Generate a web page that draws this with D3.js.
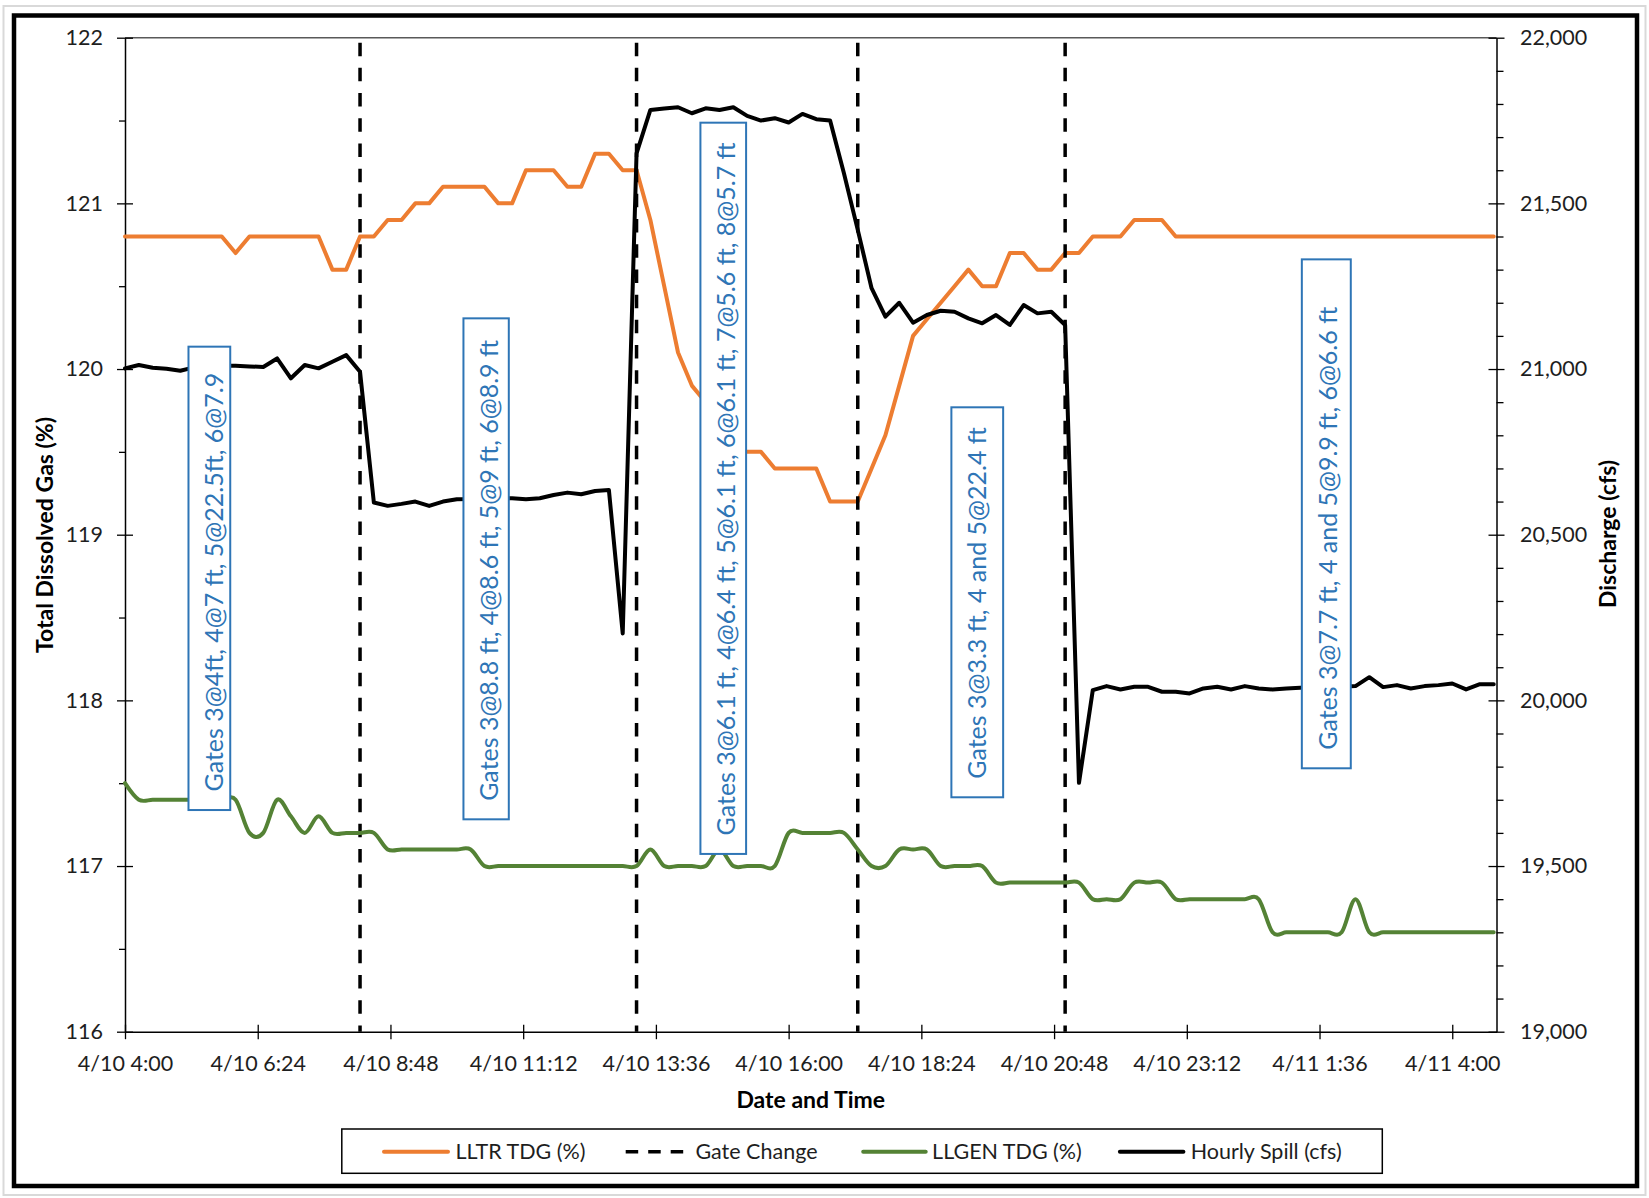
<!DOCTYPE html>
<html>
<head>
<meta charset="utf-8">
<script src="https://cdn.jsdelivr.net/npm/d3@7"></script>
<style>
  html, body { margin: 0; padding: 0; background: #fff; }
  svg { display: block; font-family: Lato, "Open Sans", sans-serif; }
</style>
</head>
<body>
<svg id="chart" width="1649" height="1198"></svg>
<script>
// ---- Data ---------------------------------------------------------------
// 15-minute readings starting 4/10 4:00
const startTime = "4/10 4:00";
const stepMinutes = 15;
const axisEnd = "4/11 4:48";

const xTickLabels = ["4/10 4:00", "4/10 6:24", "4/10 8:48", "4/10 11:12", "4/10 13:36",
  "4/10 16:00", "4/10 18:24", "4/10 20:48", "4/10 23:12", "4/11 1:36", "4/11 4:00"];
const tdgTicks = [116, 117, 118, 119, 120, 121, 122];
const tdgMinorTicks = [116.5, 117.5, 118.5, 119.5, 120.5, 121.5];
const spillTicks = [19000, 19500, 20000, 20500, 21000, 21500, 22000];

// LLTR TDG (%)
const lltrTdg = [
  120.8, 120.8, 120.8, 120.8, 120.8, 120.8, 120.8, 120.8, 120.7, 120.8,
  120.8, 120.8, 120.8, 120.8, 120.8, 120.6, 120.6, 120.8, 120.8, 120.9,
  120.9, 121.0, 121.0, 121.1, 121.1, 121.1, 121.1, 121.0, 121.0, 121.2,
  121.2, 121.2, 121.1, 121.1, 121.3, 121.3, 121.2, 121.2, 120.9, 120.5,
  120.1, 119.9, 119.8, 119.7, 119.5, 119.5, 119.5, 119.4, 119.4, 119.4,
  119.4, 119.2, 119.2, 119.2, 119.4, 119.6, 119.9, 120.2, 120.3, 120.4,
  120.5, 120.6, 120.5, 120.5, 120.7, 120.7, 120.6, 120.6, 120.7, 120.7,
  120.8, 120.8, 120.8, 120.9, 120.9, 120.9, 120.8, 120.8, 120.8, 120.8,
  120.8, 120.8, 120.8, 120.8, 120.8, 120.8, 120.8, 120.8, 120.8, 120.8,
  120.8, 120.8, 120.8, 120.8, 120.8, 120.8, 120.8, 120.8, 120.8, 120.8
];

// LLGEN TDG (%)
const llgenTdg = [
  117.5, 117.4, 117.4, 117.4, 117.4, 117.4, 117.4, 117.4, 117.4, 117.2,
  117.2, 117.4, 117.3, 117.2, 117.3, 117.2, 117.2, 117.2, 117.2, 117.1,
  117.1, 117.1, 117.1, 117.1, 117.1, 117.1, 117.0, 117.0, 117.0, 117.0,
  117.0, 117.0, 117.0, 117.0, 117.0, 117.0, 117.0, 117.0, 117.1, 117.0,
  117.0, 117.0, 117.0, 117.1, 117.0, 117.0, 117.0, 117.0, 117.2, 117.2,
  117.2, 117.2, 117.2, 117.1, 117.0, 117.0, 117.1, 117.1, 117.1, 117.0,
  117.0, 117.0, 117.0, 116.9, 116.9, 116.9, 116.9, 116.9, 116.9, 116.9,
  116.8, 116.8, 116.8, 116.9, 116.9, 116.9, 116.8, 116.8, 116.8, 116.8,
  116.8, 116.8, 116.8, 116.6, 116.6, 116.6, 116.6, 116.6, 116.6, 116.8,
  116.6, 116.6, 116.6, 116.6, 116.6, 116.6, 116.6, 116.6, 116.6, 116.6
];

// Hourly Spill (cfs)
const hourlySpill = [
  21002, 21012, 21004, 21001, 20995, 21005, 21008, 21010, 21010, 21008,
  21006, 21032, 20972, 21012, 21002, 21022, 21042, 20992, 20597, 20587,
  20593, 20600, 20587, 20600, 20607, 20608, 20610, 20610, 20610, 20607,
  20610, 20620, 20627, 20622, 20632, 20635, 20202, 21651, 21782, 21786,
  21790, 21772, 21787, 21782, 21790, 21764, 21750, 21757, 21744, 21770,
  21754, 21750, 21591, 21420, 21244, 21158, 21200, 21140, 21163, 21176,
  21173, 21153, 21138, 21163, 21133, 21193, 21168, 21173, 21133, 19751,
  20031, 20043, 20033, 20041, 20041, 20026, 20026, 20021, 20036, 20041,
  20033, 20043, 20036, 20033, 20036, 20038, 20040, 20040, 20041, 20043,
  20070, 20040, 20046, 20036, 20043, 20046, 20051, 20033, 20049, 20049
];

// Gate changes and the gate settings that followed each one
const gateChanges = ["4/10 8:15", "4/10 13:15", "4/10 17:15", "4/10 21:00"];
const gateNotes = [
  "Gates 3@4ft, 4@7 ft, 5@22.5ft, 6@7.9",
  "Gates 3@8.8 ft, 4@8.6 ft, 5@9 ft, 6@8.9 ft",
  "Gates 3@6.1 ft, 4@6.4 ft, 5@6.1 ft, 6@6.1 ft, 7@5.6 ft, 8@5.7 ft",
  "Gates 3@3.3 ft, 4 and 5@22.4 ft",
  "Gates 3@7.7 ft, 4 and 5@9.9 ft, 6@6.6 ft"
];

// ---- Layout -------------------------------------------------------------
const W = 1649, H = 1198;
const plot = { left: 125, right: 1496.5, top: 37.7, bottom: 1031.7 };
// note boxes placed in chart units: hours after start, TDG values
const noteBoxes = [
  { h0: 1.148, h1: 1.903, top: 120.135, bottom: 117.338 },
  { h0: 6.12, h1: 6.94, top: 120.306, bottom: 117.282 },
  { h0: 10.405, h1: 11.231, top: 121.487, bottom: 117.073 },
  { h0: 14.943, h1: 15.879, top: 119.769, bottom: 117.415 },
  { h0: 21.28, h1: 22.165, top: 120.662, bottom: 117.59 }
];
const colors = { lltr: "#ED7D31", llgen: "#548235", spill: "#000000", note: "#2E75B6", text: "#1e1e1e" };

function parseStamp(s) {
  const m = s.match(/(\d+)\/(\d+)\s+(\d+):(\d+)/);
  return new Date(2000, +m[1] - 1, +m[2], +m[3], +m[4]);
}

const t0 = parseStamp(startTime);
const times = lltrTdg.map((_, i) => new Date(t0.getTime() + i * stepMinutes * 60000));
const hoursAfter = h => new Date(t0.getTime() + h * 3600000);

const svg = d3.select("#chart");

const x = d3.scaleTime().domain([t0, parseStamp(axisEnd)]).range([plot.left, plot.right]);
const yL = d3.scaleLinear().domain([116, 122]).range([plot.bottom, plot.top]);
const yR = d3.scaleLinear().domain([19000, 22000]).range([plot.bottom, plot.top]);

// ---- Frame ----------------------------------------------------------------
svg.append("rect").attr("x", 0).attr("y", 0).attr("width", W).attr("height", H).attr("fill", "#fff");
svg.append("rect").attr("x", 3.5).attr("y", 6).attr("width", 1642).attr("height", 1189)
  .attr("fill", "none").attr("stroke", "#d9d9d9").attr("stroke-width", 2);
svg.append("rect").attr("x", 14).attr("y", 15.5).attr("width", 1623).attr("height", 1170.5)
  .attr("fill", "none").attr("stroke", "#000").attr("stroke-width", 4.5);

// plot area top border
svg.append("line").attr("x1", plot.left).attr("x2", plot.right)
  .attr("y1", plot.top).attr("y2", plot.top)
  .attr("stroke", "#595959").attr("stroke-width", 1.5);

// ---- Axes -----------------------------------------------------------------
const tickFont = 21.5;

function styleAxis(g) {
  g.select(".domain").attr("stroke", "#000").attr("stroke-width", 1.5);
  g.selectAll(".tick line").attr("stroke", "#000").attr("stroke-width", 1.3);
  g.selectAll(".tick text").attr("fill", colors.text).attr("font-size", tickFont)
    .attr("font-family", "Lato, 'Open Sans', sans-serif");
}

// left: TDG
const gL = svg.append("g").attr("transform", `translate(${plot.left},0)`)
  .call(d3.axisLeft(yL).tickValues(tdgTicks).tickSize(8).tickSizeOuter(0).tickPadding(14)
    .tickFormat(d3.format("d")));
styleAxis(gL);
gL.selectAll(".tick line").attr("x1", 8);
svg.append("g").attr("transform", `translate(${plot.left},0)`)
  .call(d3.axisLeft(yL).tickValues(tdgMinorTicks).tickSize(6).tickFormat(""))
  .call(g => { g.select(".domain").remove(); g.selectAll("line").attr("stroke", "#000").attr("stroke-width", 1.3); });

// right: discharge
const gR = svg.append("g").attr("transform", `translate(${plot.right},0)`)
  .call(d3.axisRight(yR).tickValues(spillTicks).tickSize(8).tickSizeOuter(0).tickPadding(15.5)
    .tickFormat(d3.format(",")));
styleAxis(gR);
gR.selectAll(".tick line").attr("x1", -8);
svg.append("g").attr("transform", `translate(${plot.right},0)`)
  .call(d3.axisRight(yR).tickValues(d3.range(19100, 22000, 100).filter(v => v % 500 !== 0))
    .tickSize(7).tickFormat(""))
  .call(g => { g.select(".domain").remove(); g.selectAll("line").attr("stroke", "#000").attr("stroke-width", 1.3); });

// bottom: date and time
const xTickDates = xTickLabels.map(parseStamp);
const gB = svg.append("g").attr("transform", `translate(0,${plot.bottom})`)
  .call(d3.axisBottom(x).tickValues(xTickDates).tickSize(7.5).tickSizeOuter(0)
    .tickFormat((d, i) => xTickLabels[i]));
styleAxis(gB);
gB.selectAll(".tick line").attr("y1", -7);
gB.selectAll(".tick text").attr("y", 39.3).attr("dy", null);

// axis titles
const titleFont = 23;
svg.append("text").attr("transform", "translate(53,535) rotate(-90)")
  .attr("text-anchor", "middle").attr("font-weight", "bold").attr("font-size", titleFont)
  .attr("fill", "#000").text("Total Dissolved Gas (%)");
svg.append("text").attr("transform", "translate(1616,534) rotate(-90)")
  .attr("text-anchor", "middle").attr("font-weight", "bold").attr("font-size", titleFont)
  .attr("fill", "#000").text("Discharge (cfs)");
svg.append("text").attr("x", (plot.left + plot.right) / 2).attr("y", 1108)
  .attr("text-anchor", "middle").attr("font-weight", "bold").attr("font-size", titleFont)
  .attr("fill", "#000").text("Date and Time");

// ---- Series -------------------------------------------------------------
const dash = "13.5,11.7";

svg.append("path")
  .attr("d", d3.line().x((d, i) => x(times[i])).y(d => yL(d))(lltrTdg))
  .attr("fill", "none").attr("stroke", colors.lltr).attr("stroke-width", 4)
  .attr("stroke-linejoin", "round").attr("stroke-linecap", "round");

svg.append("g").selectAll("line").data(gateChanges).join("line")
  .attr("x1", d => x(parseStamp(d))).attr("x2", d => x(parseStamp(d)))
  .attr("y1", yL(121.97)).attr("y2", yL(116))
  .attr("stroke", "#000").attr("stroke-width", 3.5).attr("stroke-dasharray", dash);

svg.append("path")
  .attr("d", d3.line().x((d, i) => x(times[i])).y(d => yL(d)).curve(d3.curveCardinal.tension(0))(llgenTdg))
  .attr("fill", "none").attr("stroke", colors.llgen).attr("stroke-width", 4)
  .attr("stroke-linejoin", "round").attr("stroke-linecap", "round");

svg.append("path")
  .attr("d", d3.line().x((d, i) => x(times[i])).y(d => yR(d))(hourlySpill))
  .attr("fill", "none").attr("stroke", colors.spill).attr("stroke-width", 4)
  .attr("stroke-linejoin", "round").attr("stroke-linecap", "round");

// ---- Gate setting notes -------------------------------------------------
const noteFont = 25;
const notes = svg.append("g").selectAll("g").data(gateNotes).join("g");
notes.append("rect")
  .attr("x", (d, i) => x(hoursAfter(noteBoxes[i].h0)))
  .attr("y", (d, i) => yL(noteBoxes[i].top))
  .attr("width", (d, i) => x(hoursAfter(noteBoxes[i].h1)) - x(hoursAfter(noteBoxes[i].h0)))
  .attr("height", (d, i) => yL(noteBoxes[i].bottom) - yL(noteBoxes[i].top))
  .attr("fill", "#fff").attr("stroke", colors.note).attr("stroke-width", 2);
notes.append("text")
  .attr("transform", (d, i) => {
    const bx = x(hoursAfter(noteBoxes[i].h0)) + 17 + noteFont * 0.72;
    const by = yL(noteBoxes[i].bottom) - 18.5;
    return `translate(${bx},${by}) rotate(-90)`;
  })
  .attr("font-size", noteFont).attr("fill", colors.note).text(d => d);

// ---- Legend ---------------------------------------------------------------
const legend = svg.append("g");
legend.append("rect").attr("x", 341.8).attr("y", 1129).attr("width", 1040.5).attr("height", 44.3)
  .attr("fill", "#fff").attr("stroke", "#000").attr("stroke-width", 1.5);
const legendY = 1151.7;
const legendItems = [
  { label: "LLTR TDG (%)", color: colors.lltr, dashed: false, x0: 384, x1: 448, tx: 455.4 },
  { label: "Gate Change", color: "#000", dashed: true, x0: 625.7, x1: 686.4, tx: 695.4 },
  { label: "LLGEN TDG (%)", color: colors.llgen, dashed: false, x0: 863.2, x1: 925.7, tx: 932.1 },
  { label: "Hourly Spill (cfs)", color: colors.spill, dashed: false, x0: 1119.9, x1: 1183.4, tx: 1190.7 }
];
legendItems.forEach(it => {
  legend.append("line").attr("x1", it.x0).attr("x2", it.x1).attr("y1", legendY).attr("y2", legendY)
    .attr("stroke", it.color).attr("stroke-width", it.dashed ? 3.5 : 4)
    .attr("stroke-linecap", it.dashed ? "butt" : "round")
    .attr("stroke-dasharray", it.dashed ? "12.5,10" : null);
  legend.append("text").attr("x", it.tx).attr("y", legendY).attr("dy", "0.35em")
    .attr("font-size", 21.5).attr("fill", colors.text).text(it.label);
});
</script>
</body>
</html>
